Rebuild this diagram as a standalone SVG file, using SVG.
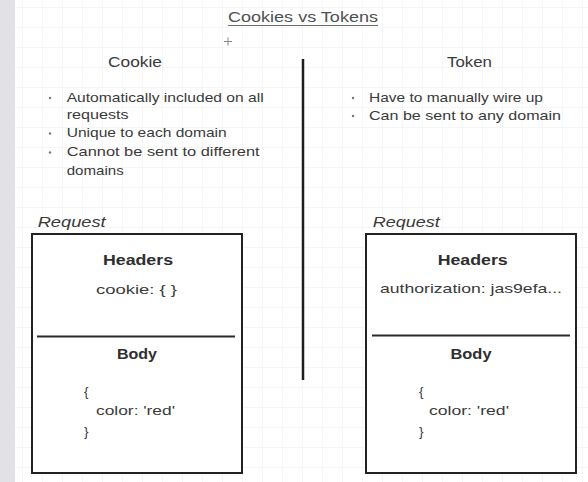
<svg xmlns="http://www.w3.org/2000/svg" width="588" height="482" viewBox="0 0 588 482">
  <defs>
    <pattern id="grid" x="2" y="7" width="20" height="20" patternUnits="userSpaceOnUse">
      <path d="M0 0 H20 M0 0 V20" fill="none" stroke="#eeeef2" stroke-width="1"/>
    </pattern>
    <style>
      text { font-family: "Liberation Sans", Arial, sans-serif; fill: #3a3a3a; }
      .title { font-size: 15px; fill: #505050; }
      .col { font-size: 15px; fill: #3a3a3a; }
      .item { font-size: 13.5px; fill: #3a3a3a; }
      .req { font-size: 14px; font-style: italic; fill: #3a3a3a; }
      .hd { font-size: 14.5px; font-weight: bold; fill: #2e2e2e; }
      .val { font-size: 13.5px; fill: #3a3a3a; }
      .box { fill: #ffffff; stroke: #222222; stroke-width: 2; }
      .div { stroke: #2a2a2a; stroke-width: 1.8; fill: none; }
      .dot { fill: #777777; }
    </style>
  </defs>

  <rect x="0" y="0" width="588" height="482" fill="#ffffff"/>
  <rect x="15" y="0" width="573" height="482" fill="url(#grid)"/>
  <rect x="0" y="0" width="15" height="482" fill="#e2e2e6"/>

  <g id="title">
    <text class="title" x="303" y="22" text-anchor="middle" textLength="150" lengthAdjust="spacingAndGlyphs">Cookies vs Tokens</text>
    <line x1="228" y1="25.5" x2="378" y2="25.5" stroke="#6a6a6a" stroke-width="1.2"/>
    <path d="M224 41.5 H232 M228 37.5 V45.5" stroke="#888888" stroke-width="1" fill="none"/>
  </g>

  <g id="divider">
    <line x1="303" y1="59" x2="303" y2="380" stroke="#1e1e1e" stroke-width="2.5"/>
  </g>

  <g id="cookie-column">
    <text class="col" x="135" y="67" text-anchor="middle" textLength="54" lengthAdjust="spacingAndGlyphs">Cookie</text>
    <circle class="dot" cx="50" cy="98" r="1.2"/>
    <text class="item" x="66.7" y="101.7" textLength="197" lengthAdjust="spacingAndGlyphs">Automatically included on all</text>
    <text class="item" x="66.7" y="118.5" textLength="62" lengthAdjust="spacingAndGlyphs">requests</text>
    <circle class="dot" cx="50" cy="133.5" r="1.2"/>
    <text class="item" x="66.7" y="137" textLength="160" lengthAdjust="spacingAndGlyphs">Unique to each domain</text>
    <circle class="dot" cx="50" cy="152.5" r="1.2"/>
    <text class="item" x="66.7" y="156" textLength="193" lengthAdjust="spacingAndGlyphs">Cannot be sent to different</text>
    <text class="item" x="66.7" y="175" textLength="57" lengthAdjust="spacingAndGlyphs">domains</text>
  </g>

  <g id="token-column">
    <text class="col" x="469.5" y="67" text-anchor="middle" textLength="45" lengthAdjust="spacingAndGlyphs">Token</text>
    <circle class="dot" cx="353" cy="98" r="1.2"/>
    <text class="item" x="369" y="101.7" textLength="174" lengthAdjust="spacingAndGlyphs">Have to manually wire up</text>
    <circle class="dot" cx="353" cy="116" r="1.2"/>
    <text class="item" x="369" y="119.5" textLength="192" lengthAdjust="spacingAndGlyphs">Can be sent to any domain</text>
  </g>

  <g id="cookie-request">
    <text class="req" x="37.7" y="227" textLength="68" lengthAdjust="spacingAndGlyphs">Request</text>
    <rect class="box" x="32" y="234" width="210" height="239"/>
    <text class="hd" x="138" y="265" text-anchor="middle" textLength="70" lengthAdjust="spacingAndGlyphs">Headers</text>
    <text class="val" x="136.5" y="294" text-anchor="middle" textLength="81" lengthAdjust="spacingAndGlyphs">cookie: { }</text>
    <line class="div" x1="37" y1="336.5" x2="235" y2="336.5"/>
    <text class="hd" x="137" y="359" text-anchor="middle" textLength="40" lengthAdjust="spacingAndGlyphs">Body</text>
    <text class="val" x="84" y="396">{</text>
    <text class="val" x="96" y="415" textLength="79" lengthAdjust="spacingAndGlyphs">color: 'red'</text>
    <text class="val" x="84" y="436">}</text>
  </g>

  <g id="token-request">
    <text class="req" x="372.7" y="227" textLength="67" lengthAdjust="spacingAndGlyphs">Request</text>
    <rect class="box" x="366" y="234" width="210" height="239"/>
    <text class="hd" x="472.7" y="265" text-anchor="middle" textLength="70" lengthAdjust="spacingAndGlyphs">Headers</text>
    <text class="val" x="471" y="293" text-anchor="middle" textLength="182" lengthAdjust="spacingAndGlyphs">authorization: jas9efa...</text>
    <line class="div" x1="372" y1="335.5" x2="570" y2="335.5"/>
    <text class="hd" x="471" y="359" text-anchor="middle" textLength="41" lengthAdjust="spacingAndGlyphs">Body</text>
    <text class="val" x="419" y="396">{</text>
    <text class="val" x="429" y="415" textLength="80" lengthAdjust="spacingAndGlyphs">color: 'red'</text>
    <text class="val" x="419" y="436">}</text>
  </g>
</svg>
